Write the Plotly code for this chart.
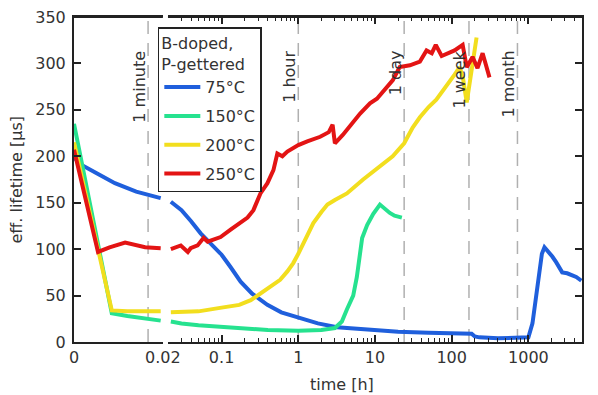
import math
import plotly.graph_objects as go

# ---------------- data (time in hours, lifetime in µs) ----------------
labels = ["75°C", "150°C", "200°C", "250°C"]
colors = ["#1f5fdc", "#26e28f", "#f2de1e", "#e31414"]

t_75 = [0, 0.0012, 0.005, 0.0092, 0.014, 0.0195,
        0.0218, 0.03, 0.04, 0.0533, 0.07, 0.1, 0.13, 0.177, 0.25, 0.395, 0.6, 1, 1.8, 3.2,
        6, 10, 20, 50, 100, 182, 200, 230, 400, 700, 1000, 1130, 1250, 1390, 1500, 1620,
        1750, 1870, 2050, 2300, 2760, 3200, 3600, 4200, 4900]
v_75 = [199, 192, 182, 171, 162, 155,
        151, 142, 130, 117, 107, 94, 81, 65, 52, 40, 32, 26, 20, 16,
        14, 13, 11, 10, 9, 9, 6, 5, 4, 4, 5, 20, 48, 78, 95, 102,
        99, 96, 92, 86, 75, 74, 72, 70, 66]

t_150 = [0, 0.0085, 0.012, 0.016, 0.0195,
         0.0218, 0.03, 0.05, 0.1, 0.2, 0.4, 1, 2, 3, 3.7, 4.3, 5.2, 5.8, 6.3, 6.8, 7.9,
         9.5, 11.6, 13.5, 15.6, 18, 22.4]
v_150 = [235, 31, 28, 25, 23,
         22, 20, 18, 16, 14, 13, 12, 13, 15, 22, 35, 50, 70, 95, 112, 126,
         138, 148, 143, 139, 136, 134]

t_200 = [0, 0.0085, 0.012, 0.016, 0.0195,
         0.0218, 0.05, 0.1, 0.17, 0.24, 0.35, 0.45, 0.58, 0.72, 0.86, 1, 1.25, 1.57, 2, 2.4,
         3, 4.3, 7, 11.6, 17, 24, 31, 38.5, 50, 63, 85, 109, 127, 140, 157, 180, 211]
v_200 = [215, 34, 33, 33, 33,
         32, 33, 37, 40, 45, 54, 60, 67, 76, 85, 95, 112, 128, 140, 148,
         153, 160, 175, 189, 200, 214, 231, 242, 253, 261, 275, 288, 296, 285, 258, 290, 328]

t_250 = [0, 0.0054, 0.008, 0.0115, 0.016, 0.0195,
         0.0218, 0.0294, 0.0363, 0.0395, 0.0487, 0.0582, 0.0658, 0.097, 0.131, 0.177, 0.218,
         0.26, 0.321, 0.396, 0.474, 0.533, 0.62, 0.72, 0.861, 1.0, 1.31, 1.57, 1.93, 2.5, 2.8,
         3.0, 3.8, 6.4, 8.6, 10.6, 17.1, 21, 28.5, 38.5, 47, 55, 62, 74, 90, 109, 139,
         157, 187, 217, 253, 283, 311]
v_250 = [207, 97, 102, 107, 102, 101,
         100, 104, 97, 101, 104, 112, 108, 113, 121, 129, 134,
         142, 160, 171, 185, 203, 200, 205, 209, 212, 216, 218, 221, 226, 234,
         214, 223, 246, 257, 262, 282, 296, 298, 302, 314, 311, 320, 308, 311, 314, 320,
         296, 307, 295, 311, 296, 285]

series_t = [t_75, t_150, t_200, t_250]
series_v = [v_75, v_150, v_200, v_250]

# event markers
event_names = ["1 minute", "1 hour", "1 day", "1 week", "1 month"]
event_times = [1 / 60, 1, 24, 168, 720]

left_ticks = [0, 0.02]
left_ticktext = ["0", "0.02"]
right_ticks = [0.1, 1, 10, 100, 1000]
right_ticktext = ["0.1", "1", "10", "100", "1000"]
y_ticks = [0, 50, 100, 150, 200, 250, 300, 350]

BREAK = 0.02
FONT = "DejaVu Sans"
TXT = "#333333"
FS = 16
X1_DOM = [0, 0.175]
X2_DOM = [0.185, 1]

fig = go.Figure()
for name, col, ts, vs in zip(labels, colors, series_t, series_v):
    lt = [t for t in ts if t <= BREAK]
    lv = [v for t, v in zip(ts, vs) if t <= BREAK]
    rt = [t for t in ts if t >= BREAK]
    rv = [v for t, v in zip(ts, vs) if t >= BREAK]
    fig.add_trace(go.Scatter(x=lt, y=lv, mode="lines", name=name, legendgroup=name,
                             line=dict(color=col, width=4), xaxis="x", yaxis="y"))
    fig.add_trace(go.Scatter(x=rt, y=rv, mode="lines", name=name, legendgroup=name,
                             showlegend=False, line=dict(color=col, width=4),
                             xaxis="x2", yaxis="y2"))

for name, t in zip(event_names, event_times):
    left = t <= BREAK
    xr = "x" if left else "x2"
    yr = "y" if left else "y2"
    fig.add_shape(type="line", xref=xr, yref=yr, x0=t, x1=t, y0=0, y1=350,
                  line=dict(color="#b0b0b0", width=1.5, dash="13px,9px"), layer="below")
    ax_x = t if left else math.log10(t)
    fig.add_annotation(x=ax_x, y=316, xref=xr, yref=yr, text=name, showarrow=False,
                       textangle=-90, xanchor="center", yanchor="top", xshift=-9,
                       font=dict(family=FONT, size=FS, color=TXT))

# top frame line of both axis segments
for dom in (X1_DOM, X2_DOM):
    fig.add_shape(type="line", xref="paper", yref="paper", x0=dom[0], x1=dom[1], y0=1, y1=1,
                  line=dict(color="#222", width=2), layer="above")

minor_vals = []
for dec in [0.01, 0.1, 1, 10, 100, 1000]:
    for k in range(2, 10):
        v = dec * k
        if 0.02 < v < 5000:
            minor_vals.append(v)

axis_common = dict(showline=True, linecolor="#222", linewidth=2, ticks="inside",
                   tickcolor="#222", tickwidth=1.5, ticklen=7, showgrid=False, zeroline=False,
                   automargin=False, ticklabeloverflow="allow",
                   tickfont=dict(family=FONT, size=FS, color=TXT))

# the page body adds an 8px offset, so margins are shifted to keep the plot area in place
fig.update_layout(
    width=598, height=395,
    margin=dict(l=66, r=24, t=9, b=61, autoexpand=False),
    paper_bgcolor="white", plot_bgcolor="white",
    xaxis=dict(domain=X1_DOM, range=[0, 0.02], tickmode="array",
               tickvals=left_ticks, ticktext=left_ticktext, mirror="allticks",
               anchor="y", **axis_common),
    xaxis2=dict(domain=X2_DOM, type="log", range=[-1.69897, 3.69897], tickmode="array",
                tickvals=right_ticks, ticktext=right_ticktext, mirror="allticks", anchor="y2",
                minor=dict(tickmode="array", tickvals=minor_vals, ticks="inside", ticklen=4,
                           tickcolor="#222", tickwidth=1.2),
                **axis_common),
    yaxis=dict(range=[0, 350], tickmode="array", tickvals=y_ticks, anchor="x",
               ticklabelstandoff=3, **axis_common),
    yaxis2=dict(range=[0, 350], tickmode="array", tickvals=y_ticks, anchor="x2",
                side="right", showticklabels=False, **axis_common),
    legend=dict(x=0.165, y=0.969, xanchor="left", yanchor="top",
                bgcolor="white", bordercolor="#222", borderwidth=1.5,
                font=dict(family=FONT, size=FS, color=TXT),
                title=dict(text="B-doped,<br>P-gettered", font=dict(family=FONT, size=FS, color=TXT)),
                tracegroupgap=5, itemwidth=36),
    showlegend=True,
)

fig.add_annotation(xref="paper", yref="paper", x=-0.114, y=0.5, text="eff. lifetime [µs]",
                   showarrow=False, textangle=-90, xanchor="center", yanchor="middle",
                   font=dict(family=FONT, size=FS, color=TXT))
fig.add_annotation(xref="paper", yref="paper", x=0.528, y=-0.132, text="time [h]",
                   showarrow=False, xanchor="center", yanchor="middle",
                   font=dict(family=FONT, size=FS, color=TXT))

fig.write_html("out.html")
